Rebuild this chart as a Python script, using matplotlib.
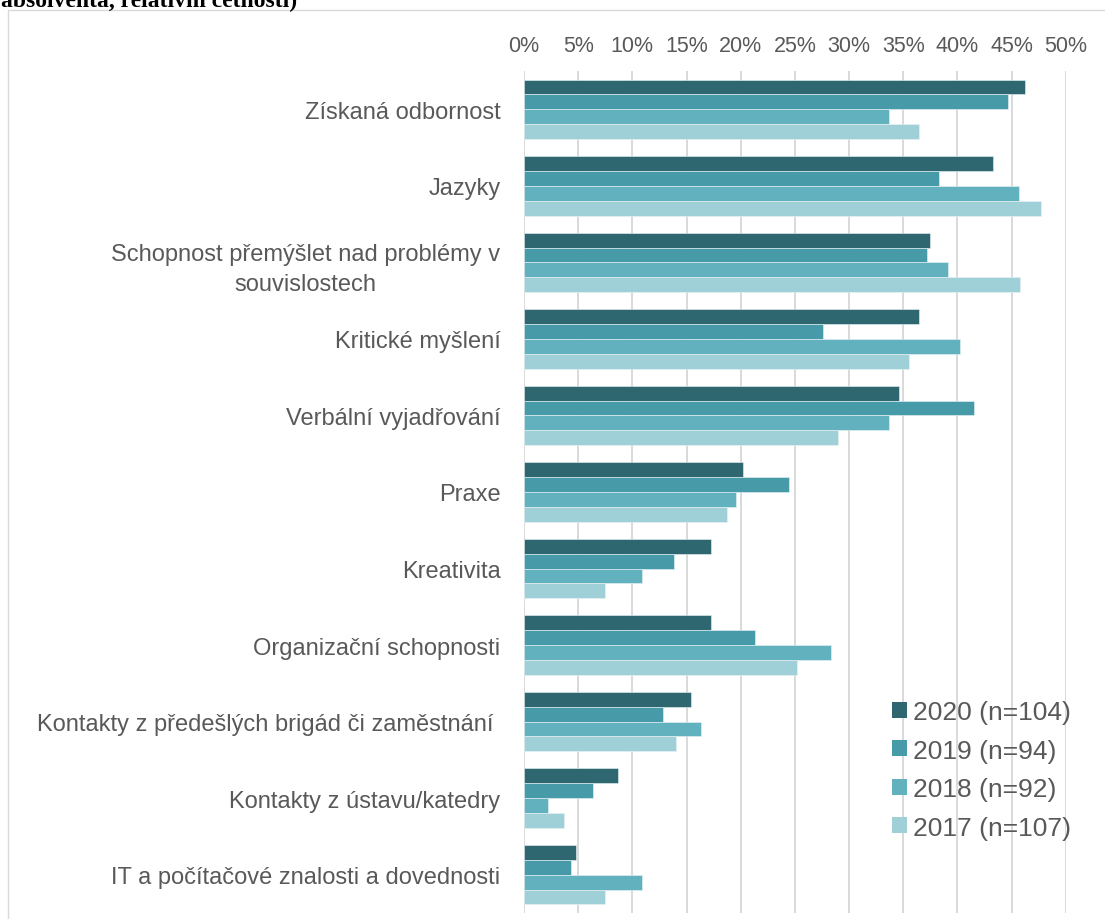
import matplotlib
matplotlib.use('Agg')
import matplotlib.pyplot as plt
import numpy as np
from matplotlib.patches import Rectangle, Patch

plt.rcParams['font.family'] = ['Liberation Sans', 'DejaVu Sans']

# data (podíl odpovědí)
kategorie = ['Získaná odbornost', 'Jazyky',
             'Schopnost přemýšlet nad problémy v\nsouvislostech',
             'Kritické myšlení', 'Verbální vyjadřování', 'Praxe', 'Kreativita',
             'Organizační schopnosti',
             'Kontakty z předešlých brigád či zaměstnání ',
             'Kontakty z ústavu/katedry', 'IT a počítačové znalosti a dovednosti']
r2020 = [0.462, 0.433, 0.375, 0.365, 0.346, 0.202, 0.173, 0.173, 0.154, 0.087, 0.048]
r2019 = [0.447, 0.383, 0.372, 0.276, 0.415, 0.245, 0.138, 0.213, 0.128, 0.064, 0.043]
r2018 = [0.337, 0.457, 0.391, 0.402, 0.337, 0.196, 0.109, 0.283, 0.163, 0.022, 0.109]
r2017 = [0.365, 0.477, 0.458, 0.355, 0.290, 0.187, 0.075, 0.252, 0.140, 0.037, 0.075]
serie = [r2020, r2019, r2018, r2017]
legenda = ['2020 (n=104)', '2019 (n=94)', '2018 (n=92)', '2017 (n=107)']
barvy = ['#2E6770', '#479BA8', '#61B1BE', '#A0D0D7']
xticky = np.arange(0, 0.51, 0.05)

W, H = 1105, 920
fig = plt.figure(figsize=(W / 100, H / 100), dpi=100)

# ramecek grafu (zbytek je mimo vyrez)
fig.patches.append(Rectangle((8 / W, -0.1), 1.2, 1.1 - 11 / H, transform=fig.transFigure,
                             fill=False, edgecolor='#D9D9D9', linewidth=1))
# useknuty nadpis nahore
fig.text(1 / W, 1 - 7.5 / H, 'absolventa, relativní četnosti)', fontsize=17,
         fontweight='bold', family=['Liberation Serif', 'DejaVu Serif'], va='baseline', ha='left')

ax = fig.add_axes([524 / W, 1 - 914 / H, (1065.7 - 524) / W, (914 - 72) / H])

y = np.arange(len(kategorie))
h = 0.194
for i, (vals, c, lab) in enumerate(zip(serie, barvy, legenda)):
    ax.barh(y + (i - 1.5) * h, vals, height=h, color=c, edgecolor='#EAF3F5',
            linewidth=0.4, label=lab, zorder=3)

ax.set_xlim(0, 0.5)
ax.set_ylim(len(kategorie) - 0.5, -0.5)
ax.set_xticks(xticky)
ax.set_xticklabels([f'{int(round(v * 100))}%' for v in xticky])
ax.xaxis.tick_top()
ax.tick_params(axis='x', length=0, pad=11, labelsize=15.5, labelcolor='#595959')
ax.set_yticks(y)
ax.set_yticklabels(kategorie)
ax.tick_params(axis='y', length=0, pad=17, labelsize=17, labelcolor='#595959')
for t in ax.get_yticklabels():
    t.set_multialignment('center')
    t.set_linespacing(1.45)
ax.grid(axis='x', color='#D9D9D9', linewidth=1.4, zorder=0)
for s in ax.spines.values():
    s.set_visible(False)

handles = [Patch(facecolor=c) for c in barvy]
fig.legend(handles, legenda, loc='upper left', bbox_to_anchor=(892 / W, 1 - 701 / H),
           frameon=False, fontsize=19, handlelength=0.55, handleheight=0.55,
           handletextpad=0.25, labelspacing=0.55, borderpad=0, borderaxespad=0,
           labelcolor='#595959')

plt.savefig('out.png', dpi=100)
